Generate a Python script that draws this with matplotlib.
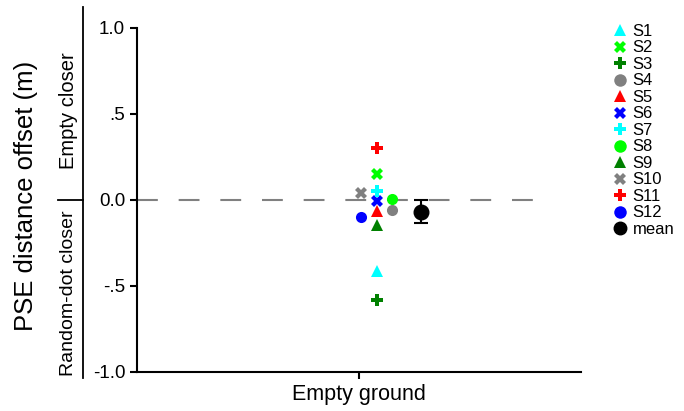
import matplotlib.pyplot as plt
from matplotlib.lines import Line2D

plt.rcParams['font.family'] = ['Liberation Sans', 'DejaVu Sans']

subjects = ['S1', 'S2', 'S3', 'S4', 'S5', 'S6', 'S7', 'S8', 'S9', 'S10', 'S11', 'S12']
offsets = [-0.41, 0.153, -0.58, -0.06, -0.065, -0.003, 0.05, 0.003, -0.145, 0.042, 0.304, -0.10]
xpos = [1.08, 1.08, 1.08, 1.15, 1.08, 1.08, 1.08, 1.15, 1.08, 1.01, 1.08, 1.01]
markers = ['^', 'X', 'P', 'o', '^', 'X', 'P', 'o', '^', 'X', 'P', 'o']
colors = ['#00ffff', '#00ff00', '#008000', '#808080', '#ff0000', '#0000ff',
          '#00ffff', '#00ff00', '#008000', '#808080', '#ff0000', '#0000ff']
mean_val = -0.067
mean_err = 0.068
mean_x = 1.28

fig = plt.figure(figsize=(6.84, 4.11), dpi=100)
ax = fig.add_axes([0.2003, 0.0949, 0.6487, 0.837])

ax.plot([0, 1.85], [0, 0], color='#808080', lw=1.5, dashes=(10, 10), zorder=1)

handles = []
for s, y, x, m, c in zip(subjects, offsets, xpos, markers, colors):
    ax.plot(x, y, linestyle='none', marker=m, color=c, markersize=8,
            markeredgewidth=0, zorder=3)
    handles.append(Line2D([], [], linestyle='none', marker=m, color=c,
                          markersize=9, markeredgewidth=0, label=s))

ax.errorbar(mean_x, mean_val, yerr=mean_err, fmt='o', color='black', markersize=10.5,
            capsize=5, elinewidth=1.5, capthick=1.5, zorder=4)
handles.append(Line2D([], [], linestyle='none', marker='o', color='black',
                      markersize=9, label='mean'))

ax.set_xlim(0, 2)
ax.set_ylim(-1, 1)
ax.set_xticks([1])
ax.set_xticklabels(['Empty ground'], fontsize=15.5)
ax.set_yticks([-1, -0.5, 0, 0.5, 1])
ax.set_yticklabels(['-1.0', '-.5', '0.0', '.5', '1.0'], fontsize=13.5)
ax.spines['top'].set_visible(False)
ax.spines['right'].set_visible(False)
ax.spines['left'].set_linewidth(1.5)
ax.spines['bottom'].set_linewidth(1.5)
ax.tick_params(width=1.5, length=5)

ax.legend(handles=handles, loc='upper left', bbox_to_anchor=(0.88, 0.962),
          bbox_transform=fig.transFigure, frameon=False, fontsize=12,
          handletextpad=0.15, labelspacing=0.09, handlelength=1.2, borderpad=0)

fig.text(0.038, 0.523, 'PSE distance offset (m)', rotation=90, fontsize=18.5,
         ha='center', va='center')
fig.text(0.1, 0.732, 'Empty closer', rotation=90, fontsize=14.5, ha='center', va='center')
fig.text(0.1, 0.287, 'Random-dot closer', rotation=90, fontsize=14, ha='center', va='center')
fig.add_artist(Line2D([0.1215, 0.1215], [0.08, 0.983], color='black', lw=1.3,
                      transform=fig.transFigure))
fig.add_artist(Line2D([0.085, 0.1215], [0.513, 0.513], color='black', lw=1.3,
                      transform=fig.transFigure))

fig.savefig('out.png', dpi=100)
